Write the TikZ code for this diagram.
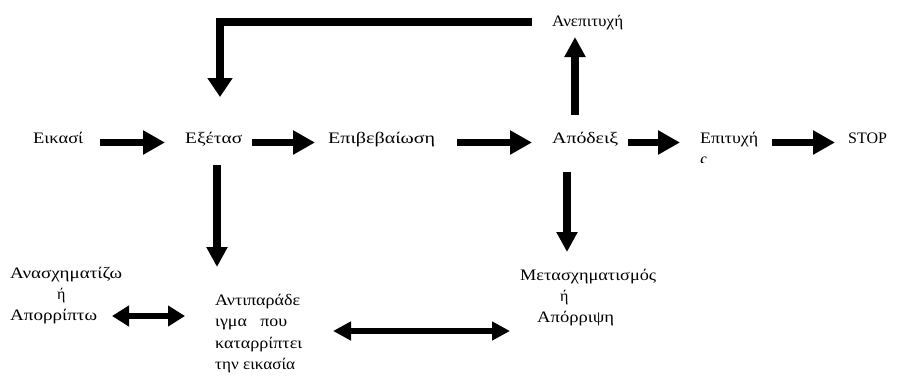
\documentclass[tikz,border=0pt]{standalone}
\usepackage{fontspec}
\usepackage{graphicx}
\setmainfont{Liberation Serif}
\usetikzlibrary{arrows.meta}
\newcommand\fw[2]{\resizebox{#1}{\height}{#2}}
\tikzset{
  txt/.style={inner sep=0pt, anchor=base west, font=\fontsize{16}{21}\selectfont},
  row/.style={txt, text height=6pt, text depth=4pt},
  multi/.style={txt},
  fat/.style={line width=7.5pt, -{Triangle[length=22pt,width=23pt]}},
  fatv/.style={line width=7.5pt, -{Triangle[length=20pt,width=20pt]}},
  loop/.style={line width=8pt, -{Triangle[length=19pt,width=24pt]}},
  dbl/.style={line width=6pt, {Triangle[length=17pt,width=20pt]}-{Triangle[length=17pt,width=20pt]}},
  dbllong/.style={line width=6pt, {Triangle[length=18pt,width=18pt]}-{Triangle[length=18pt,width=18pt]}},
}
\begin{document}
\begin{tikzpicture}[x=1pt,y=-1pt]
\useasboundingbox (0,0) rectangle (901,381);
% top row
\node[row] (eik)  at (33,143.5)  {\fw{50pt}{Εικασί}};
\node[row] (exet) at (185,143.5) {\fw{57pt}{Εξέτασ}};
\node[row] (epib) at (328,143.5) {\fw{107pt}{Επιβεβαίωση}};
\node[row] (apod) at (552,143.5) {\fw{66pt}{Απόδειξ}};
\begin{scope}
  \clip (690,120) rectangle (780,162);
  \node[multi] (epit) at (700,143.5) {\begin{tabular}[t]{@{}l@{}}\fw{58pt}{Επιτυχή}\\\fw{7pt}{ς}\end{tabular}};
\end{scope}
\node[row] (stop) at (848,143.5) {STOP};
\node[row] (anep) at (552,26) {\fw{71pt}{Ανεπιτυχή}};
% bottom texts
\node[multi] (anas) at (10,278) {\begin{tabular}[t]{@{}l@{}}\fw{112pt}{Ανασχηματίζω}\\\hspace*{47pt}ή\\\fw{87pt}{Απορρίπτω}\end{tabular}};
\node[multi, font=\fontsize{16}{21.5}\selectfont] (anti) at (215,305) {\begin{tabular}[t]{@{}l@{}}\fw{85pt}{Αντιπαράδε}\\\fw{72pt}{ιγμα\ \ \ που}\\\fw{87pt}{καταρρίπτει}\\\fw{80pt}{την εικασία}\end{tabular}};
\node[multi] (meta) at (520,280) {\begin{tabular}[t]{@{}l@{}}\fw{136pt}{Μετασχηματισμός}\\\hspace*{40pt}ή\\\hspace*{17pt}\fw{77pt}{Απόρριψη}\end{tabular}};
% horizontal arrows
\draw[fat] ([xshift=67pt,yshift=1pt]eik.base west) -- ([xshift=-20pt,yshift=1pt]exet.base west);
\draw[fat] ([xshift=67pt,yshift=1pt]exet.base west) -- ([xshift=-13pt,yshift=1pt]epib.base west);
\draw[fat] ([xshift=129pt,yshift=1pt]epib.base west) -- ([xshift=-20pt,yshift=1pt]apod.base west);
\draw[fat] ([xshift=76pt,yshift=1pt]apod.base west) -- ([xshift=-20pt,yshift=1pt]epit.base west);
\draw[fat] ([xshift=72pt,yshift=1pt]epit.base west) -- ([xshift=-13pt,yshift=1pt]stop.base west);
% vertical arrows
\draw[fatv, shorten <=21.5pt, shorten >=38pt] ([xshift=2pt]anti.base west |- exet.base) -- ([xshift=2pt]anti.base west);
\draw[fatv, shorten <=28.5pt, shorten >=28pt] ([xshift=15pt]apod.base west) -- ([xshift=15pt]apod.base west |- meta.base);
\draw[fatv, shorten <=28.5pt, shorten >=11pt] ([xshift=23pt]apod.base west) -- ([xshift=23pt]apod.base west |- anep.base);
% loop back from failure
\draw[loop, shorten >=46.5pt] ([xshift=-20pt,yshift=4pt]anep.base west) -| ([xshift=35pt]exet.base west);
% double arrows
\draw[dbl] ([xshift=102pt,yshift=-38pt]anas.base west) -- ([xshift=-30pt,yshift=-11pt]anti.base west);
\draw[dbllong] ([xshift=118pt,yshift=-26pt]anti.base west) -- ([xshift=-10pt,yshift=-51pt]meta.base west);
\end{tikzpicture}
\end{document}
